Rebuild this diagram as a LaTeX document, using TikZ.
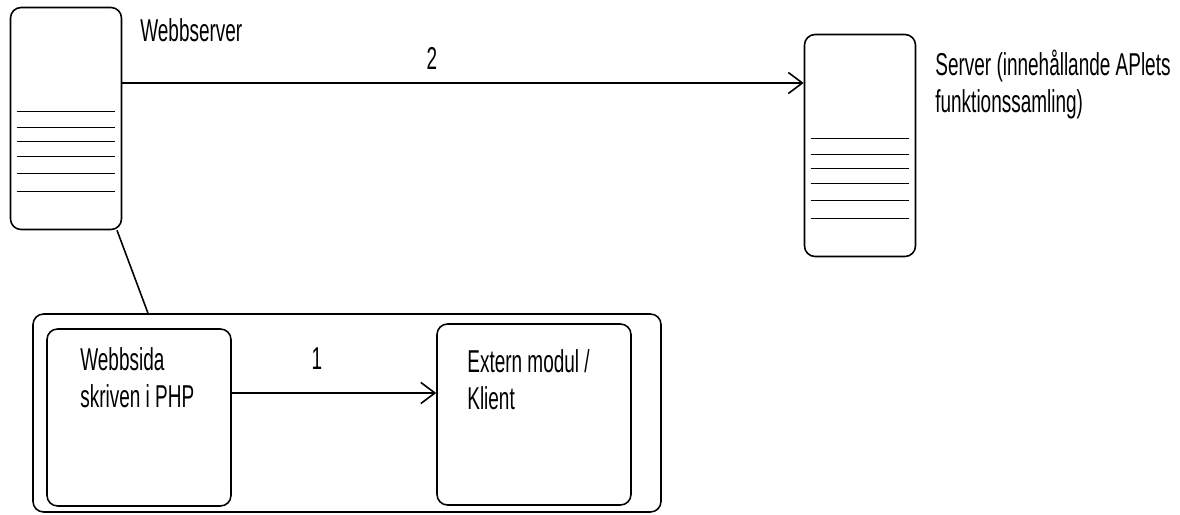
\documentclass[tikz,border=0pt]{standalone}
\usepackage{fontspec}
\setmainfont{Liberation Sans}[FakeStretch=0.6]
\usetikzlibrary{arrows.meta}

\begin{document}
\begin{tikzpicture}[
    server/.style={draw, line width=0.9pt, minimum width=2.22cm, minimum height=4.44cm, rounded corners=6pt},
    box/.style={draw, line width=0.9pt, rounded corners=6pt},
    txt/.style={font=\fontsize{18}{21.6}\selectfont, align=left, inner sep=0pt},
    link/.style={line width=0.9pt, -{Straight Barb[length=8pt,width=12pt]}}
  ]
  \useasboundingbox (0,0) rectangle (23.6,10.3);

  % Servers
  \node[server] (ws) at (1.32, 7.93) {};
  \node[server] (srv) at (17.2, 7.39) {};
  \foreach \s in {ws, srv}
    \foreach \d in {2.10, 2.42, 2.70, 3.00, 3.34, 3.70}
      \draw[line width=0.9pt] ([shift={(0.14,-\d)}]\s.north west) -- ([shift={(-0.14,-\d)}]\s.north east);

  \node[txt, anchor=base west] (wslabel) at (2.8, 9.46) {Webbserver};
  \node[txt, anchor=base west] (srvlabel) at (18.7, 8.04) {Server (innehållande APlets\\funktionssamling)};

  % Webbserver -> Server
  \draw[link] ([yshift=0.71cm]ws.east) -- ([yshift=0.71cm]ws.east -| srv.west);
  \node[txt, anchor=base] (two) at (8.64, 8.9) {2};

  % Webbsida and modul
  \node[box, minimum width=12.56cm, minimum height=3.96cm] (outer) at (6.94, 2.04) {};
  \node[box, minimum width=3.68cm, minimum height=3.54cm] (php) at (2.78, 1.95) {};
  \node[box, minimum width=3.88cm, minimum height=3.62cm] (ext) at (10.68, 2.01) {};
  \node[txt, anchor=base west] (phptxt) at (1.6, 2.14) {Webbsida\\skriven i PHP};
  \node[txt, anchor=base west] (exttxt) at (9.34, 2.1) {Extern modul /\\Klient};

  \draw[line width=0.9pt] ([xshift=1.02cm]ws.south) -- ([xshift=-3.98cm]outer.north);

  % Webbsida -> Extern modul
  \draw[link] ([yshift=0.49cm]php.east) -- ([yshift=0.49cm]php.east -| ext.west);
  \node[txt, anchor=base] (one) at (6.34, 2.9) {1};

\end{tikzpicture}
\end{document}
